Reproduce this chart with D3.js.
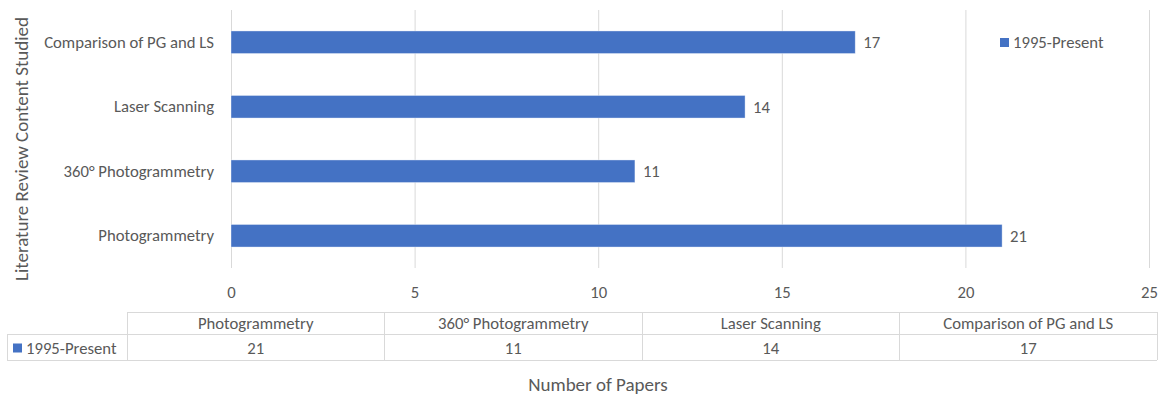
<!DOCTYPE html>
<html>
<head>
<meta charset="utf-8">
<script src="https://cdn.jsdelivr.net/npm/d3@7"></script>
<style>
  html, body { margin: 0; padding: 0; background: #fff; }
  svg text { font-family: Calibri, Carlito, "Open Sans", sans-serif; fill: #595959; }
</style>
</head>
<body>
<svg id="chart" width="1158" height="397"></svg>
<script>
// Topics covered by the literature review, in table order
const categories = ["Photogrammetry", "360° Photogrammetry", "Laser Scanning", "Comparison of PG and LS"];
// Number of papers per topic, 1995 to present
const seriesName = "1995-Present";
const papers = [21, 11, 14, 17];
const xTicks = [0, 5, 10, 15, 20, 25];

const svg = d3.select("#chart");
const color = "#4472c4";
const gridColor = "#d9d9d9";
const fs = "16.7px";
const titleFs = "19px";

const plot = { left: 231, right: 1149, top: 10, bottom: 268 };

const x = d3.scaleLinear().domain([0, 25]).range([plot.left, plot.right]);
// Bars run bottom-up in category order
const y = d3.scaleBand()
  .domain(categories.slice().reverse())
  .range([plot.top, plot.bottom])
  .paddingInner(0.65)
  .paddingOuter(0.325);

// Vertical gridlines
svg.append("g")
  .selectAll("line")
  .data(xTicks)
  .join("line")
  .attr("x1", d => x(d) + 0.5).attr("x2", d => x(d) + 0.5)
  .attr("y1", plot.top).attr("y2", plot.bottom)
  .attr("stroke", gridColor).attr("stroke-width", 1);

// X axis tick labels
const xAxis = d3.axisBottom(x).tickValues(xTicks).tickSize(0).tickPadding(0);
const gx = svg.append("g").attr("transform", `translate(0,${plot.bottom})`).call(xAxis);
gx.select(".domain").remove();
gx.selectAll("text")
  .attr("dy", "0.35em").attr("y", 24)
  .style("font-size", fs).attr("fill", "#595959");

// Y axis category labels
const yAxis = d3.axisLeft(y).tickSize(0).tickPadding(0);
const gy = svg.append("g").attr("transform", `translate(${plot.left - 17},0)`).call(yAxis);
gy.select(".domain").remove();
gy.selectAll("text").style("font-size", fs).attr("fill", "#595959");

// Bars
svg.append("g")
  .selectAll("rect")
  .data(categories.map((c, i) => ({ c, v: papers[i] })))
  .join("rect")
  .attr("x", x(0))
  .attr("y", d => y(d.c))
  .attr("width", d => x(d.v) - x(0))
  .attr("height", y.bandwidth())
  .attr("fill", color)
  .attr("stroke", "#ffffff").attr("stroke-opacity", 0.5).attr("stroke-width", 0.75);

// Value labels
svg.append("g")
  .selectAll("text")
  .data(categories.map((c, i) => ({ c, v: papers[i] })))
  .join("text")
  .attr("x", d => x(d.v) + 8)
  .attr("y", d => y(d.c) + y.bandwidth() / 2)
  .attr("dy", "0.35em")
  .style("font-size", fs)
  .text(d => d.v);

// Legend
const legend = svg.append("g").attr("transform", "translate(1000,38)");
legend.append("rect").attr("width", 9).attr("height", 9).attr("fill", color);
legend.append("text").attr("x", 13).attr("y", 4.5).attr("dy", "0.35em")
  .style("font-size", fs).text(seriesName);

// Y axis title
svg.append("text")
  .attr("transform", "translate(21,149) rotate(-90)")
  .attr("text-anchor", "middle").attr("dy", "0.35em")
  .style("font-size", titleFs)
  .text("Literature Review Content Studied");

// Data table beneath the axis
const table = { left: 7, colStart: 127, right: 1157, top: 312, mid: 334, bottom: 360 };
const col = d3.scaleBand().domain(categories).range([table.colStart, table.right]);
const tg = svg.append("g").attr("stroke", gridColor).attr("stroke-width", 1).attr("shape-rendering", "crispEdges");
tg.append("line").attr("x1", table.colStart).attr("x2", table.right).attr("y1", table.top).attr("y2", table.top);
tg.append("line").attr("x1", table.left).attr("x2", table.right).attr("y1", table.mid).attr("y2", table.mid);
tg.append("line").attr("x1", table.left).attr("x2", table.right).attr("y1", table.bottom).attr("y2", table.bottom);
tg.append("line").attr("x1", table.left).attr("x2", table.left).attr("y1", table.mid).attr("y2", table.bottom);
tg.selectAll("line.v")
  .data(categories.map(c => col(c)).concat([table.right]))
  .join("line").attr("class", "v")
  .attr("x1", d => d).attr("x2", d => d)
  .attr("y1", table.top).attr("y2", table.bottom);

svg.append("g").selectAll("text")
  .data(categories)
  .join("text")
  .attr("x", d => col(d) + col.bandwidth() / 2)
  .attr("y", (table.top + table.mid) / 2)
  .attr("dy", "0.35em").attr("text-anchor", "middle")
  .style("font-size", fs)
  .text(d => d);

svg.append("g").selectAll("text")
  .data(categories.map((c, i) => ({ c, v: papers[i] })))
  .join("text")
  .attr("x", d => col(d.c) + col.bandwidth() / 2)
  .attr("y", (table.mid + table.bottom) / 2 + 1)
  .attr("dy", "0.35em").attr("text-anchor", "middle")
  .style("font-size", fs)
  .text(d => d.v);

const rowKey = svg.append("g").attr("transform", `translate(13,${(table.mid + table.bottom) / 2 + 1})`);
rowKey.append("rect").attr("y", -4.5).attr("width", 9).attr("height", 9).attr("fill", color);
rowKey.append("text").attr("x", 13).attr("dy", "0.35em").style("font-size", fs).text(seriesName);

// X axis title
svg.append("text")
  .attr("x", 598).attr("y", 384).attr("dy", "0.35em")
  .attr("text-anchor", "middle")
  .style("font-size", titleFs)
  .text("Number of Papers");
</script>
</body>
</html>
